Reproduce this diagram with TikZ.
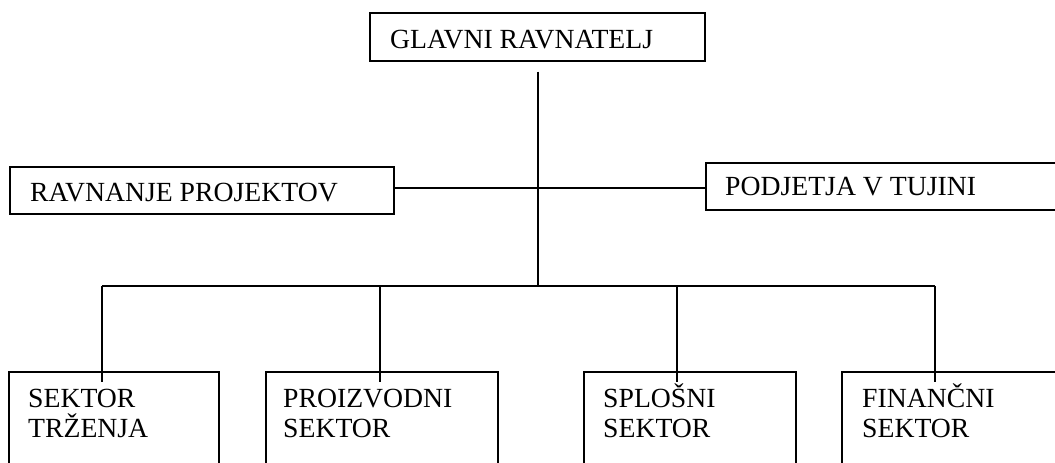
\documentclass[tikz,border=0pt]{standalone}
\usepackage{fontspec}
\setmainfont{Liberation Serif}
\begin{document}
\begin{tikzpicture}[x=1pt,y=-1pt,
  box/.style={draw,line width=1.5pt,inner sep=0pt,anchor=north west},
  lbl/.style={anchor=base west,inner sep=0pt,font=\fontsize{27.7}{30}\selectfont,align=left},
  conn/.style={line width=1.5pt}]
\useasboundingbox (0,0) rectangle (1055,463);
\clip (0,0) rectangle (1055,463);
% boxes
\node[box,minimum width=335pt,minimum height=48pt] (gr) at (369,12) {};
\node[box,minimum width=384pt,minimum height=47pt] (rp) at (9,166) {};
\node[box,minimum width=365pt,minimum height=47pt] (pt) at (705,162) {};
\node[box,minimum width=210pt,minimum height=120pt] (s1) at (8,371) {};
\node[box,minimum width=232pt,minimum height=120pt] (s2) at (265,371) {};
\node[box,minimum width=212pt,minimum height=120pt] (s3) at (583,371) {};
\node[box,minimum width=229pt,minimum height=120pt] (s4) at (841,371) {};
% texts
\node[lbl] (tgr) at (390,48) {GLAVNI RAVNATELJ};
\node[lbl] (trp) at (30,201) {RAVNANJE PROJEKTOV};
\node[lbl] (tpt) at (725,195) {PODJETJA V TUJINI};
\node[lbl] (ts1) at (28,437) {SEKTOR\\TRŽENJA};
\node[lbl] (ts2) at (283,437) {PROIZVODNI\\SEKTOR};
\node[lbl] (ts3) at (603,437) {SPLOŠNI\\SEKTOR};
\node[lbl] (ts4) at (862,437) {FINANČNI\\SEKTOR};
% connectors
\coordinate (hl) at (538,188);
\coordinate (bus) at (538,286);
\coordinate (b1) at (102,286);
\coordinate (b2) at (380,286);
\coordinate (b3) at (677,286);
\coordinate (b4) at (935,286);
\draw[conn,shorten <=10pt] (gr.south -| bus) -- (bus);
\draw[conn] (rp.east |- hl) -- (pt.west |- hl);
\draw[conn] (b1) -- (b4);
\draw[conn] (b1) -- ([yshift=-11pt]b1 |- s1.north);
\draw[conn] (b2) -- ([yshift=-11pt]b2 |- s2.north);
\draw[conn] (b3) -- ([yshift=-11pt]b3 |- s3.north);
\draw[conn] (b4) -- ([yshift=-11pt]b4 |- s4.north);
\end{tikzpicture}
\end{document}
